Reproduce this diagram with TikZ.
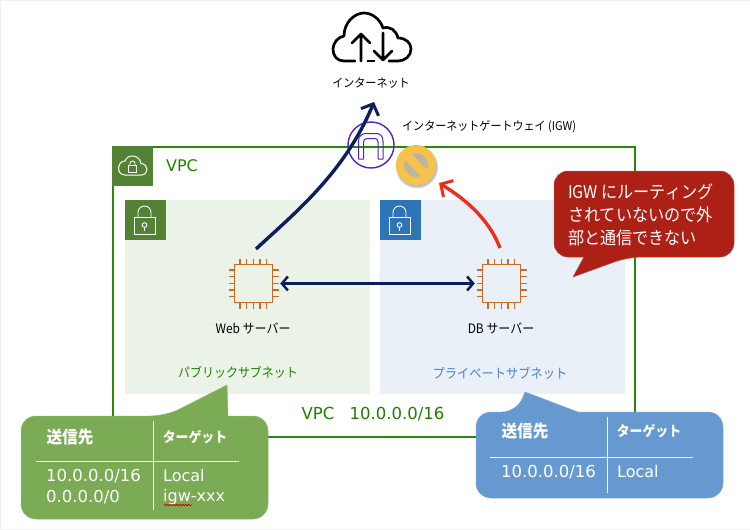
\documentclass[tikz,border=0pt]{standalone}
\usepackage{fontspec}
\setmainfont[FakeStretch=0.92]{Noto Sans CJK JP}
\newfontfamily\latinf{DejaVu Sans}
\usetikzlibrary{arrows.meta,decorations.pathmorphing}
\definecolor{vpcgreen}{HTML}{1F8000}
\definecolor{vpcline}{HTML}{2A8A08}
\definecolor{tabgreen}{HTML}{548235}
\definecolor{subgreen}{HTML}{EBF2E8}
\definecolor{subblue}{HTML}{E9F0F8}
\definecolor{tabblue}{HTML}{2E75B6}
\definecolor{chipc}{HTML}{CC6A28}
\definecolor{navyc}{HTML}{0B1F5C}
\definecolor{redc}{HTML}{EE2D1A}
\definecolor{calred}{HTML}{AC2015}
\definecolor{calgreen}{HTML}{7BAB55}
\definecolor{calblue}{HTML}{6699D0}
\definecolor{igwc}{HTML}{4F22C4}
\definecolor{privtext}{HTML}{4A86C8}
\definecolor{banyellow}{HTML}{F5C24C}
\definecolor{bangrey}{HTML}{BDB3A0}
\tikzset{
  x=1pt,y=-1pt,
  txt/.style={inner sep=0pt,font=\fontsize{12}{14}\selectfont,text=black},
  chipbox/.style={draw=chipc,line width=1.5pt,fill=none,minimum size=38pt,inner sep=0pt},
  subnet/.style={inner sep=0pt,anchor=north west,minimum width=245pt,minimum height=194pt},
  icontab/.style={inner sep=0pt,anchor=north west,minimum width=41pt,minimum height=40pt},
  whead/.style={inner sep=0pt,text=white,font=\fontsize{14}{16}\bfseries\selectfont},
  wkanji/.style={inner sep=0pt,text=white,font=\fontsize{17}{18}\bfseries\selectfont},
  wcell/.style={inner sep=0pt,anchor=west,text=white,font=\latinf\fontsize{16}{18}\selectfont},
  wnum/.style={inner sep=0pt,anchor=west,text=white,font=\latinf\fontsize{16.5}{18}\selectfont},
  flow/.style={line width=3.4pt,color=navyc,-{Straight Barb[length=9pt,width=19pt,line width=3pt]}},
  redflow/.style={line width=3.4pt,color=redc,-{Straight Barb[length=9pt,width=19pt,line width=3pt]}},
  wline/.style={white,line width=1pt},
  calltext/.style={inner sep=0pt,anchor=west,text=white,font=\fontsize{17.5}{18}\selectfont},
}
\newcommand{\chippins}[2]{%
  \foreach \d in {-13.5,-7,0,6.5,13}{
    \draw[chipc,line width=1.2pt] (#1+\d,#2-19.5) -- ++(0,-5.5);
    \draw[chipc,line width=1.2pt] (#1+\d,#2+19.5) -- ++(0,5.5);
    \draw[chipc,line width=1.2pt] (#1-19.5,#2+\d) -- ++(-5.5,0);
    \draw[chipc,line width=1.2pt] (#1+19.5,#2+\d) -- ++(5.5,0);
  }}
\newcommand{\lockicon}[2]{%
  \draw[white,line width=0.9pt] (#1+9,#2+17) rectangle (#1+30,#2+34);
  \draw[white,line width=0.9pt] (#1+13,#2+17) -- (#1+13,#2+12.5) arc[start angle=180,end angle=360,radius=6.5] -- (#1+26,#2+17);
  \draw[white,line width=0.9pt] (#1+19.5,#2+25) circle[radius=2.3];
  \draw[white,line width=0.9pt] (#1+19.5,#2+27.3) -- (#1+19.5,#2+31);}
\begin{document}
\begin{tikzpicture}
\useasboundingbox (0,0) rectangle (750,530);
\fill[white] (0,0) rectangle (750,530);
\draw[black!6,line width=1pt] (0,0.5) -- (750,0.5) (0,529) -- (750,529) (0.5,0) -- (0.5,530);
% VPC
\node[anchor=north west,inner sep=0pt,minimum width=522pt,minimum height=290pt] (vpc) at (112.5,146.5) {};
\draw[vpcline,line width=2pt] (112.5,146.5) rectangle (634.5,436.5);
\node[icontab,fill=tabgreen] (vpctab) at (112,146) {};
\draw[white,line width=1pt] (125,175) -- (141,175) .. controls (149,175) and (149,164) .. (141,163.5) .. controls (140,155) and (128,153) .. (125,161) .. controls (117,161) and (116,175) .. (125,175) -- cycle;
\draw[white,line width=0.9pt] (128.5,165) rectangle (136.5,172);
\draw[white,line width=0.9pt] (130,165) -- (130,163.5) arc[start angle=180,end angle=360,radius=2.5] -- (135,165);
\node[inner sep=0pt,text=vpcgreen,font=\latinf\fontsize{16}{18}\selectfont] (vpclabel) at (182,166) {VPC};
% subnets
\node[subnet,fill=subgreen] (pub) at (125,200) {};
\node[subnet,fill=subblue] (priv) at (380,200) {};
\node[icontab,fill=tabgreen] (pubtab) at (125,200) {};
\node[icontab,fill=tabblue] (privtab) at (380,200) {};
\lockicon{125}{200}
\lockicon{380}{200}
% chips
\node[chipbox] (webchip) at (253.5,283.5) {};
\node[chipbox] (dbchip) at (501.5,283.5) {};
\chippins{253.5}{283.5}
\chippins{501.5}{283.5}
\node[txt,font=\fontsize{13}{14}\selectfont] (weblabel) at (253,328) {Web サーバー};
\node[txt,font=\fontsize{13}{14}\selectfont] (dblabel) at (501,328) {DB サーバー};
\node[inner sep=0pt,text=vpcgreen,font=\fontsize{13}{16}\selectfont] (publabel) at (238,372) {パブリックサブネット};
\node[inner sep=0pt,text=privtext,font=\fontsize{13.3}{16}\selectfont] (privlabel) at (500,373) {プライベートサブネット};
\node[inner sep=0pt,text=vpcgreen,font=\latinf\fontsize{16.5}{18}\selectfont] (vpccidr) at (373,414) {VPC\hspace{10pt} 10.0.0.0/16};
% internet cloud
\draw[black,line width=2.7pt,line cap=round,line join=round]
  (355,61) -- (344,61) .. controls (337,61) and (333,56) .. (333,49) .. controls (333,43) and (338,37) .. (344,36)
  .. controls (344,22) and (355,13) .. (364,13) .. controls (372,13) and (380,19) .. (383,28)
  .. controls (390,26) and (396,30) .. (398,38) .. controls (406,38) and (411,43) .. (411,49)
  .. controls (411,56) and (405,61) .. (398,61) -- (389,61);
\draw[black,line width=2.7pt] (367,61) -- (375,61);
\draw[black,line width=2.7pt,line cap=round,line join=round] (361,61) -- (361,34) (352,43) -- (361,34) -- (370,43);
\draw[black,line width=2.7pt,line cap=round,line join=round] (383,33) -- (383,60) (374,51) -- (383,60) -- (392,51);
\node[txt] (netlabel) at (371,83) {インターネット};
% IGW
\node[draw=igwc,line width=1.4pt,circle,minimum size=46pt,inner sep=0pt] (igw) at (371,145) {};
\draw[igwc,line width=1pt,line join=round]
  (358.5,159) -- (358.5,141) .. controls (358.5,136) and (362,133.5) .. (366,133.5) -- (376,133.5) .. controls (380,133.5) and (383,136) .. (383,141) -- (383,159) -- (378,159)
  -- (378,142) .. controls (378,140) and (377,138.5) .. (375,138.5) -- (367,138.5) .. controls (365,138.5) and (363.5,140) .. (363.5,142) -- (363.5,159) -- cycle;
\node[txt,anchor=west] (igwlabel) at (402,127) {インターネットゲートウェイ (IGW)};
% prohibit
\fill[black,opacity=0.12] (417,167.5) circle[radius=21];
\fill[black,opacity=0.15] (417,167) circle[radius=20.3];
\node[circle,fill=banyellow,minimum size=40pt,inner sep=0pt] (ban) at (416,165) {};
\fill[bangrey] (416,165) circle[radius=12];
\draw[banyellow,line width=9pt] (406.5,155.5) -- (425.5,174.5);
% arrows
\coordinate (webout) at (256,249);
\coordinate (nettip) at (374,102);
\coordinate (dbout) at (500,248);
\coordinate (bantip) at (439,183);
\draw[flow] (webout) .. controls (296,212) and (345,172) .. (nettip);
\draw[redflow] (dbout) .. controls (490,222) and (470,202) .. (bantip);
\path (webchip.east) ++(7,0) coordinate (wa) (dbchip.west) ++(-7,0) coordinate (da);
\draw[line width=2.8pt,color=navyc,{Straight Barb[length=6pt,width=14pt,line width=2.5pt]}-{Straight Barb[length=6pt,width=14pt,line width=2.5pt]}] (wa) -- (da);
% red callout
\filldraw[fill=calred,draw=calred!80!white,line width=0.5pt,rounded corners=14pt]
  (554,171) -- (734,171) -- (734,257) -- (628,257) [sharp corners] -- (573,277) -- (584,257) [rounded corners=14pt] -- (554,257) -- cycle;
\node[calltext] (call1) at (568,192) {IGW にルーティング};
\node[calltext] (call2) at (568,215) {されていないので外};
\node[calltext] (call3) at (568,238) {部と通信できない};
% green callout
\filldraw[fill=calgreen,draw=calgreen!85!white,line width=0.5pt,rounded corners=15pt]
  (21,416) -- (166,416) [sharp corners] -- (227,385) -- (228,416) [rounded corners=15pt] -- (268,416) -- (268,519) -- (21,519) -- cycle;
\draw[wline] (153,421) -- (153,510) (36,461) -- (239,461);
\node[wkanji] (gh1) at (70,437) {送信先};
\node[whead] (gh2) at (195,437) {ターゲット};
\node[wnum] (gc1) at (46,476) {10.0.0.0/16};
\node[wnum] (gc2) at (46,497) {0.0.0.0/0};
\node[wcell] (gc3) at (163,476) {Local};
\node[wcell] (gc4) at (163,497) {igw-xxx};
\draw[red!80!black,line width=0.7pt,decorate,decoration={zigzag,segment length=3pt,amplitude=0.8pt}] (164,505) -- (192,505);
% blue callout
\filldraw[fill=calblue,draw=calblue!85!white,line width=0.5pt,rounded corners=15pt]
  (476,412) -- (517,412) [sharp corners] -- (525,392) -- (578,412) [rounded corners=15pt] -- (723,412) -- (723,498) -- (476,498) -- cycle;
\draw[wline] (607,417) -- (607,493) (490,457) -- (693,457);
\node[wkanji] (bh1) at (525,431) {送信先};
\node[whead] (bh2) at (649,431) {ターゲット};
\node[wnum] (bc1) at (501,472) {10.0.0.0/16};
\node[wcell] (bc2) at (617,472) {Local};
\end{tikzpicture}
\end{document}
